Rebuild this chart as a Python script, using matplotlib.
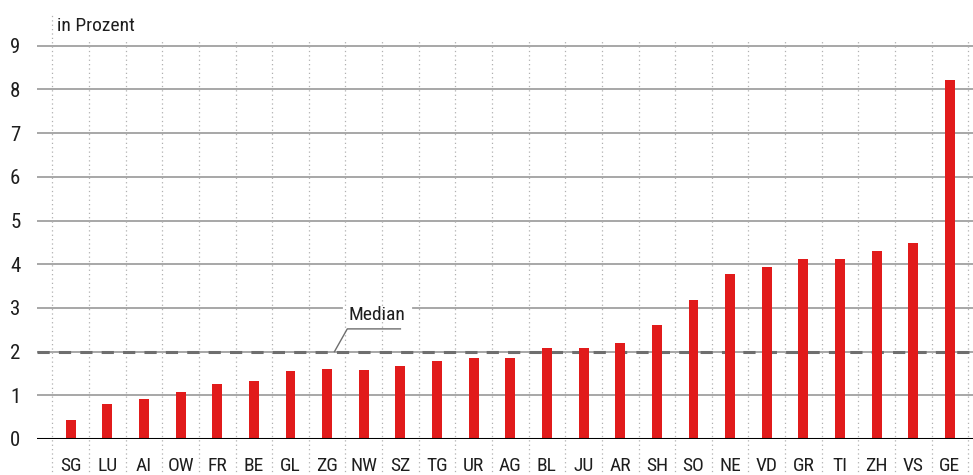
import matplotlib
matplotlib.use("Agg")
import matplotlib.pyplot as plt
import numpy as np

plt.rcParams['font.family'] = ['Roboto Condensed', 'Liberation Sans Narrow', 'Roboto', 'DejaVu Sans']

# Kantone, sortiert
cantons = ["SG", "LU", "AI", "OW", "FR", "BE", "GL", "ZG", "NW", "SZ", "TG", "UR", "AG",
           "BL", "JU", "AR", "SH", "SO", "NE", "VD", "GR", "TI", "ZH", "VS", "GE"]
values = [0.43, 0.79, 0.92, 1.08, 1.26, 1.32, 1.56, 1.61, 1.58, 1.67, 1.79, 1.85, 1.85,
          2.08, 2.08, 2.20, 2.61, 3.18, 3.77, 3.94, 4.12, 4.12, 4.30, 4.48, 8.22]
median = 2.0
yticks = list(range(0, 10))

red = "#e11b1b"
grid_col = "#a0a0a0"
txt = "#1e1e1e"

fig = plt.figure(figsize=(9.73, 4.75), dpi=100)
ax = fig.add_axes([0.038, 0.0758, 0.962, 0.8968])

x = np.arange(len(cantons))
ax.set_xlim(-0.92, 24.63)
ax.set_ylim(0, 9.75)

# horizontal grid
for t in yticks[1:]:
    if t == 3:
        continue
    ax.axhline(t, color=grid_col, lw=1.3, zorder=1)
# gridline at 3, interrupted by the label
ax.plot([-0.92, 7.4], [3, 3], color=grid_col, lw=1.3, zorder=1)
ax.plot([9.35, 24.63], [3, 3], color=grid_col, lw=1.3, zorder=1)

# vertical dotted separators, running down through the label area
bounds = np.arange(len(cantons) + 1) - 0.5
for i, b in enumerate(bounds):
    top = 9.75 if i == 0 else 9.1
    ax.plot([b, b], [-0.85, top], color="#b0b0b0", lw=0.9, ls=(0, (1, 2.5)),
            clip_on=False, zorder=1)

# median
ax.axhline(median, color="#6e6e6e", lw=2.2, ls=(0, (4, 3)), zorder=2)

ax.bar(x, values, width=0.27, color=red, zorder=3)
ax.axhline(0, color="black", lw=2.2, zorder=4)

# median label with leader line
ax.plot([7.2, 7.55, 9.0], [median, 2.52, 2.52], color="#6e6e6e", lw=1.0, zorder=5)
ax.text(8.37, 2.84, "Median", ha="center", va="center", fontsize=14, color=txt)

ax.text(-0.37, 9.45, "in Prozent", ha="left", va="center", fontsize=14, color=txt)

ax.set_yticks(yticks)
ax.set_yticklabels([str(t) for t in yticks], fontsize=15, color=txt)
ax.set_xticks(x)
ax.set_xticklabels(cantons, fontsize=14, color=txt)
ax.tick_params(axis="y", length=0, pad=12)
ax.tick_params(axis="x", length=0, pad=13)
for s in ax.spines.values():
    s.set_visible(False)

fig.savefig("out.png", dpi=100)
